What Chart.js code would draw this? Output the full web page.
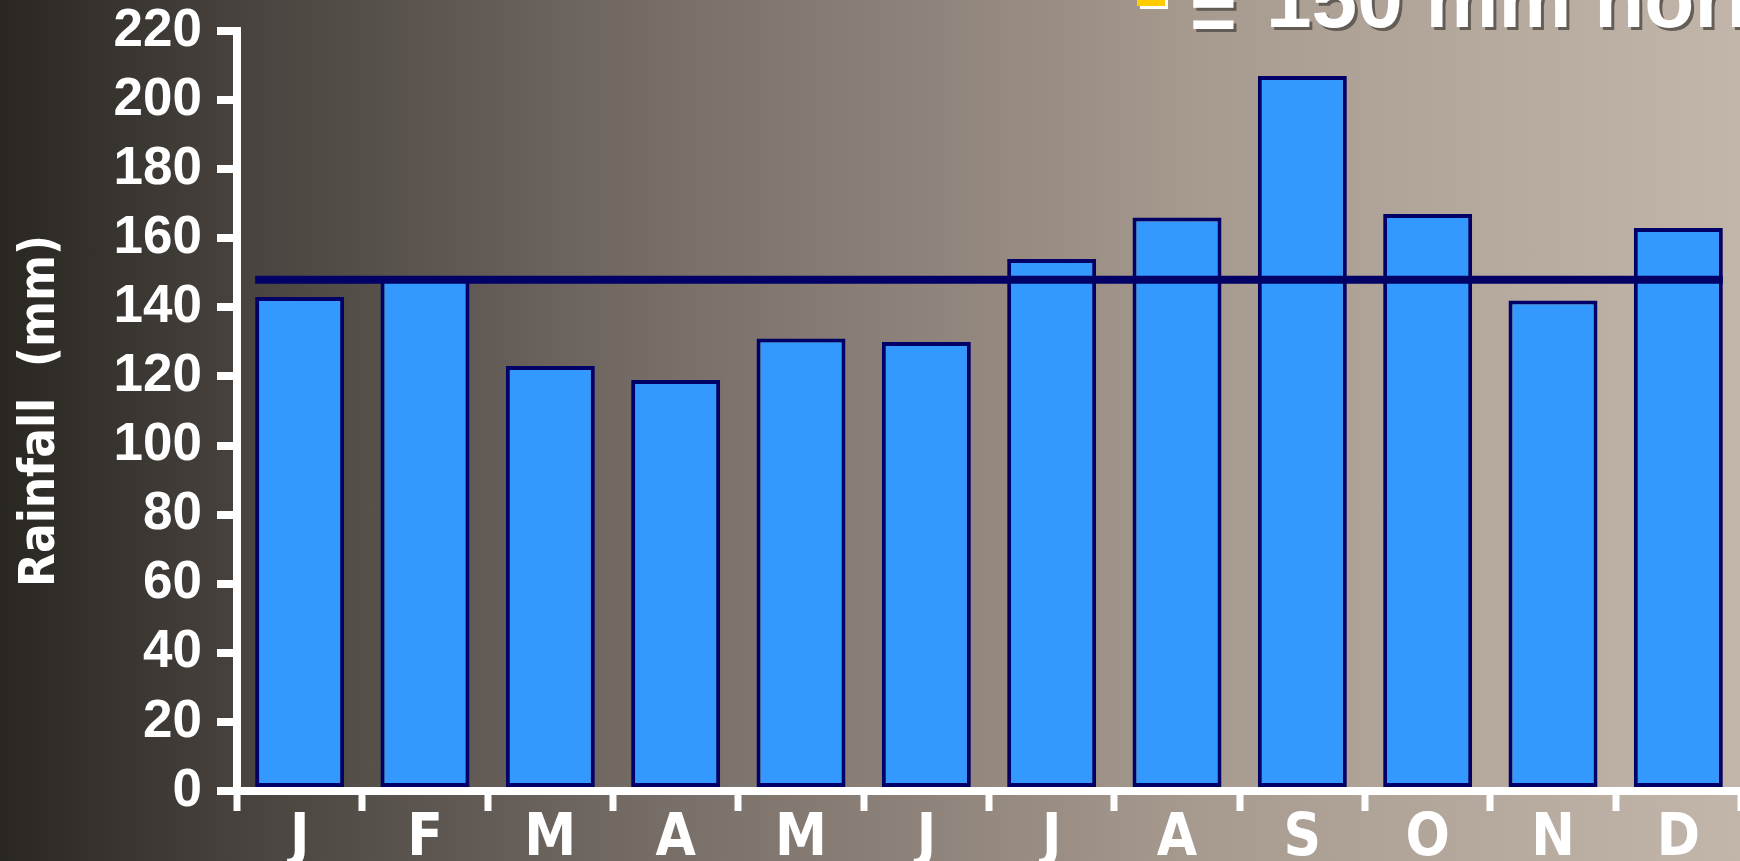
<!DOCTYPE html>
<html>
<head>
<meta charset="utf-8">
<title>Monthly rainfall</title>
<script src="https://cdn.jsdelivr.net/npm/chart.js@4.4.1/dist/chart.umd.min.js"></script>
<style>
  html, body {
    margin: 0;
    padding: 0;
    width: 1740px;
    height: 861px;
    overflow: hidden;
  }
  body {
    background: linear-gradient(to right, #2a2622 0%, #48433e 14%, #7a716a 40%, #a79a8f 69%, #c2b5aa 100%);
  }
  #wrap {
    position: relative;
    width: 1742px;
    height: 861px;
  }
</style>
</head>
<body>
<div id="wrap"><canvas id="rainChart"></canvas></div>

<script>
// ---------- Data ---------- //
const months = ['J', 'F', 'M', 'A', 'M', 'J', 'J', 'A', 'S', 'O', 'N', 'D'];
const rainfall = [143, 149, 123, 119, 131, 130, 154, 166, 207, 167, 142, 163];
const averageRainfall = 148;
const yMin = 0;
const yMax = 220;
const yStep = 20;
const yTitle = 'Rainfall  (mm)';
const keySymbol = '=';
const keyText = '150 mm normal';

const NAVY = '#000066';
const BAR_BLUE = '#3399ff';
const WHITE = '#ffffff';
const CONDENSED = '"Liberation Sans Narrow", "DejaVu Sans Condensed", sans-serif';

// ---------- Plugins ---------- //

// Horizontal average line spanning from the first bar's left edge to the last bar's right edge
const averageLine = {
  id: 'averageLine',
  afterDatasetsDraw(chart) {
    const bars = chart.getDatasetMeta(0).data;
    if (!bars.length) return;
    const first = bars[0];
    const last = bars[bars.length - 1];
    const y = chart.scales.y.getPixelForValue(averageRainfall);
    const ctx = chart.ctx;
    ctx.save();
    ctx.strokeStyle = NAVY;
    ctx.lineWidth = 8;
    ctx.beginPath();
    ctx.moveTo(first.x - first.width / 2, y);
    ctx.lineTo(last.x + last.width / 2, y);
    ctx.stroke();
    ctx.restore();
  }
};

// Key in the top right corner (yellow swatch and caption)
const keyLabel = {
  id: 'keyLabel',
  afterDraw(chart) {
    const ctx = chart.ctx;
    ctx.save();
    // swatch with white offset edge
    ctx.fillStyle = WHITE;
    ctx.fillRect(1140, -20, 28, 29);
    ctx.fillStyle = '#ffcc00';
    ctx.fillRect(1137, -20, 28, 26);

    ctx.shadowColor = 'rgba(90, 84, 78, 0.9)';
    ctx.shadowOffsetX = 3;
    ctx.shadowOffsetY = 3;
    ctx.fillStyle = WHITE;
    ctx.textBaseline = 'alphabetic';
    ctx.textAlign = 'left';
    ctx.font = 'bold 80px "Liberation Sans", Arial, sans-serif';
    ctx.fillText(keySymbol, 1190, 40);
    ctx.font = 'bold 82px "Liberation Sans", Arial, sans-serif';
    ctx.fillText(keyText, 1266, 27);
    ctx.restore();
  }
};

// ---------- Chart ---------- //
const ctx = document.getElementById('rainChart').getContext('2d');

new Chart(ctx, {
  type: 'bar',
  data: {
    labels: months,
    datasets: [{
      data: rainfall,
      backgroundColor: BAR_BLUE,
      borderColor: NAVY,
      borderWidth: 4,
      borderSkipped: false,
      barPercentage: 0.71,
      categoryPercentage: 1.0
    }]
  },
  options: {
    responsive: true,
    maintainAspectRatio: false,
    animation: false,
    devicePixelRatio: 1,
    layout: {
      padding: { top: 0, right: 1, left: 0, bottom: 0 }
    },
    plugins: {
      legend: { display: false },
      tooltip: { enabled: false }
    },
    scales: {
      x: {
        z: 1,
        offset: true,
        grid: {
          offset: true,
          drawOnChartArea: false,
          drawTicks: true,
          tickLength: 20,
          tickWidth: 7,
          tickColor: WHITE,
          lineWidth: 8
        },
        border: { display: true, color: WHITE, width: 8 },
        ticks: {
          color: WHITE,
          padding: 0,
          maxRotation: 0,
          autoSkip: false,
          font: { family: CONDENSED, weight: 'bold', size: 58, lineHeight: 1 }
        },
        afterFit(scale) { scale.height = 70; }
      },
      y: {
        min: yMin,
        max: yMax,
        grid: {
          drawOnChartArea: false,
          drawTicks: true,
          tickLength: 20,
          tickWidth: 8,
          tickColor: WHITE,
          lineWidth: 8
        },
        border: { display: true, color: WHITE, width: 8 },
        ticks: {
          stepSize: yStep,
          color: WHITE,
          padding: 15,
          font: { family: '"Liberation Sans", Arial, sans-serif', weight: 'bold', size: 53, lineHeight: 1.2 }
        },
        title: {
          display: true,
          text: yTitle,
          color: WHITE,
          padding: { top: 17, bottom: 0 },
          font: { family: CONDENSED, weight: 'bold', size: 49, lineHeight: 1 }
        },
        afterFit(scale) {
          scale.width = 237;
          scale.paddingTop = 31;
        }
      }
    }
  },
  plugins: [averageLine, keyLabel]
});
</script>
</body>
</html>
